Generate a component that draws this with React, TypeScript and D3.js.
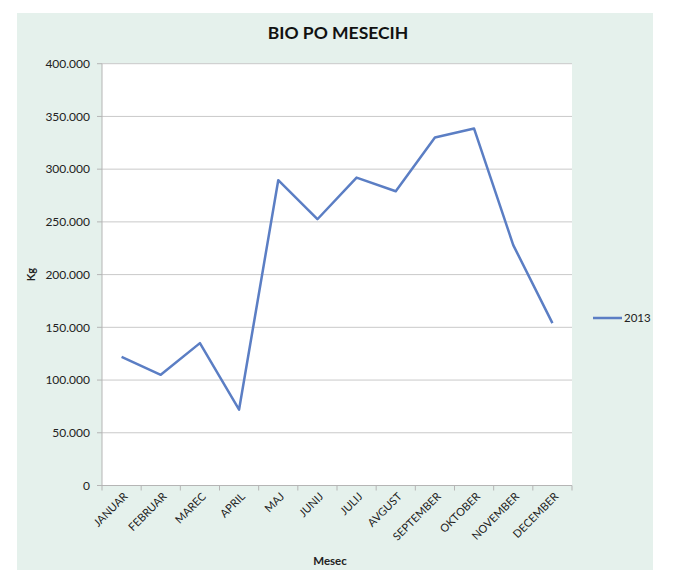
import React from 'react';
import * as d3 from 'd3';

const months = [
  'JANUAR', 'FEBRUAR', 'MAREC', 'APRIL', 'MAJ', 'JUNIJ',
  'JULIJ', 'AVGUST', 'SEPTEMBER', 'OKTOBER', 'NOVEMBER', 'DECEMBER',
];
const values2013 = [
  122000, 105000, 135000, 72000, 289500, 252500,
  292000, 279000, 330000, 338500, 228000, 154000,
];
const yTicks = [0, 50000, 100000, 150000, 200000, 250000, 300000, 350000, 400000];
const seriesName = '2013';

const font = 'Lato, "Open Sans", sans-serif';
const lineColor = '#5b7ec4';

export default function App() {
  const width = 676;
  const height = 570;
  const plot = { left: 102, right: 572, top: 63.7, bottom: 485.5 };

  const x = d3.scaleBand<string>()
    .domain(months)
    .range([plot.left, plot.right]);

  const y = d3.scaleLinear()
    .domain([0, 400000])
    .range([plot.bottom, plot.top]);

  const fmt = (v: number) => (v === 0 ? '0' : d3.format(',')(v).replace(/,/g, '.'));

  const line = d3.line<number>()
    .x((_, i) => (x(months[i]) as number) + x.bandwidth() / 2)
    .y(d => y(d));

  const boundaries = months.map(m => x(m) as number).concat([plot.right]);

  return (
    <svg width={width} height={height}
      style={{ position: 'absolute', left: 0, top: 0, display: 'block', background: '#fff' }}>
      <rect x={17} y={13} width={636} height={height - 13} fill="#e5f1ec" />
      <rect x={plot.left} y={plot.top} width={plot.right - plot.left}
        height={plot.bottom - plot.top} fill="#ffffff" />

      <text x={338} y={39} textAnchor="middle" fontFamily={font} fontWeight="bold"
        fontSize={17.5} fill="#111">BIO PO MESECIH</text>

      {/* gridlines + y labels */}
      {yTicks.map(t => (
        <g key={t}>
          {t > 0 && (
            <line x1={plot.left} x2={plot.right} y1={y(t)} y2={y(t)}
              stroke="#c9c9c9" strokeWidth={1} />
          )}
          <line x1={plot.left - 5} x2={plot.left} y1={y(t)} y2={y(t)}
            stroke="#b5b5b5" strokeWidth={1} />
          <text x={plot.left - 12} y={y(t)} dy="0.35em" textAnchor="end"
            fontFamily={font} fontSize={12} fill="#222">{fmt(t)}</text>
        </g>
      ))}

      {/* axes */}
      <line x1={plot.left} x2={plot.left} y1={plot.top} y2={plot.bottom}
        stroke="#b5b5b5" strokeWidth={1} />
      <line x1={plot.left} x2={plot.right} y1={plot.bottom} y2={plot.bottom}
        stroke="#b5b5b5" strokeWidth={1} />
      {boundaries.map((b, i) => (
        <line key={i} x1={b} x2={b} y1={plot.bottom} y2={plot.bottom + 5}
          stroke="#b5b5b5" strokeWidth={1} />
      ))}

      {/* x labels */}
      {months.map(m => {
        const cx = (x(m) as number) + x.bandwidth() / 2;
        return (
          <text key={m} transform={`translate(${cx + 4},${plot.bottom + 9}) rotate(-45)`}
            textAnchor="end" dy="0.35em" fontFamily={font} fontSize={11} fill="#222">
            {m}
          </text>
        );
      })}

      {/* axis titles */}
      <text transform={`translate(35,${(plot.top + plot.bottom) / 2}) rotate(-90)`}
        textAnchor="middle" fontFamily={font} fontWeight="bold" fontSize={11} fill="#222">Kg</text>
      <text x={330} y={565} textAnchor="middle" fontFamily={font} fontWeight="bold"
        fontSize={11.5} fill="#222">Mesec</text>

      {/* series */}
      <path d={line(values2013) || ''} fill="none" stroke={lineColor} strokeWidth={2.5}
        strokeLinejoin="round" />

      {/* legend */}
      <line x1={593} x2={622} y1={318} y2={318} stroke={lineColor} strokeWidth={2.5} />
      <text x={624} y={318} dy="0.35em" fontFamily={font} fontSize={11.5} fill="#222">{seriesName}</text>
    </svg>
  );
}
